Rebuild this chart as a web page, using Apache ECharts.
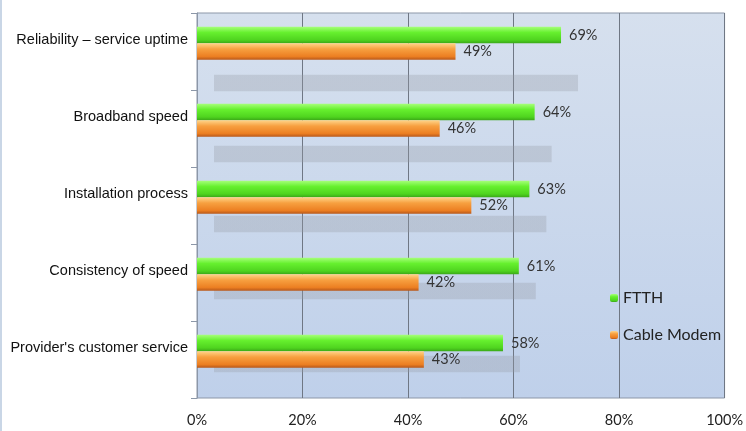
<!DOCTYPE html>
<html>
<head>
<meta charset="utf-8">
<script src="https://cdn.jsdelivr.net/npm/echarts@6/dist/echarts.min.js"></script>
<style>
html,body{margin:0;padding:0;background:#fff;}
#wrap{position:relative;width:746px;height:431px;}
#chart{width:746px;height:431px;}
#edge{position:absolute;left:0;top:0;width:2px;height:431px;background:#c9d6e6;}
</style>
</head>
<body>
<div id="wrap"><div id="chart"></div><div id="edge"></div></div>
<script>
const categories = ['Reliability – service uptime','Broadband speed','Installation process','Consistency of speed',"Provider's customer service"];
const ftth = [69, 64, 63, 61, 58];
const cableModem = [49, 46, 52, 42, 43];
const xTicks = [0, 20, 40, 60, 80, 100];
const seriesNames = ['FTTH', 'Cable Modem'];
// decorative drop-shadow offsets (style only)
const shadowDrop = [48, 42, 35, 25, 21];

const chart = echarts.init(document.getElementById('chart'), null, {renderer:'canvas'});

const greenGrad = new echarts.graphic.LinearGradient(0,0,0,1,[
  {offset:0,color:'#a6ff7a'},{offset:0.35,color:'#66f02e'},{offset:0.8,color:'#4fd41f'},{offset:1,color:'#3aa818'}]);
const orangeGrad = new echarts.graphic.LinearGradient(0,0,0,1,[
  {offset:0,color:'#ffd58a'},{offset:0.35,color:'#f7a040'},{offset:0.8,color:'#ec7f22'},{offset:1,color:'#b8581a'}]);

const labelStyle = {show:true, position:'right', distance:8, formatter:'{c}%', color:'#333', fontFamily:'Lato', fontSize:14.5};

chart.setOption({
  animation:false,
  backgroundColor:'#fff',
  grid:{left:197, right:21, top:13, bottom:33, show:true, borderColor:'#8c97a8', borderWidth:1,
    backgroundColor:new echarts.graphic.LinearGradient(0,0,0,1,[{offset:0,color:'#d6e0ee'},{offset:1,color:'#bfd0ea'}])},
  legend:{data:seriesNames, orient:'vertical', left:605, top:285, itemWidth:8, itemHeight:8, itemGap:21,
    textStyle:{fontFamily:'Lato', fontSize:16, color:'#222'}},
  xAxis:{type:'value', min:xTicks[0], max:xTicks[xTicks.length-1], interval:20,
    axisLine:{show:false}, axisTick:{show:false},
    splitLine:{show:true, lineStyle:{color:'#6f7784', width:1}},
    axisLabel:{formatter:'{value}%', margin:15, color:'#222', fontFamily:'Lato', fontSize:14.5}},
  yAxis:{type:'category', data:categories, inverse:true,
    axisLine:{show:true, lineStyle:{color:'#8c97a8'}},
    axisTick:{show:true, length:6, lineStyle:{color:'#8c97a8'}},
    axisLabel:{margin:9, color:'#111', fontFamily:'Liberation Sans', fontSize:14.5,
      verticalAlign:'bottom', lineHeight:23}},
  series:[
    {name:seriesNames[0], type:'bar', barWidth:16.5, barGap:'0%',
     data:ftth.map((v,i)=>({value:v, itemStyle:{shadowOffsetY:shadowDrop[i]}})),
     itemStyle:{color:greenGrad, shadowColor:'rgba(150,155,165,0.32)', shadowBlur:0, shadowOffsetX:17},
     label:labelStyle},
    {name:seriesNames[1], type:'bar', barWidth:16.5, barGap:'0%',
     data:cableModem, itemStyle:{color:orangeGrad}, label:labelStyle},
    {name:'spacer', type:'bar', barWidth:16.5, barGap:'0%', data:[], silent:true}
  ]
});
</script>
</body>
</html>
